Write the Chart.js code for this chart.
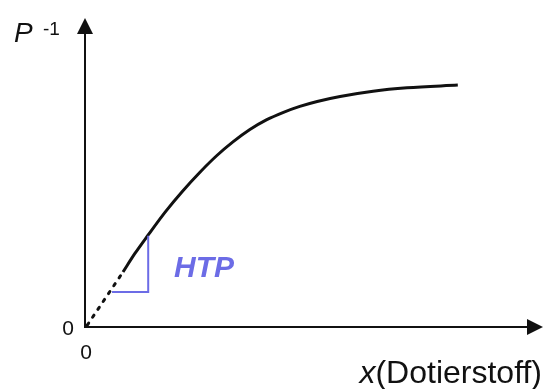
<!DOCTYPE html>
<html>
<head>
<meta charset="utf-8">
<script src="https://cdn.jsdelivr.net/npm/chart.js@4/dist/chart.umd.min.js"></script>
<style>
html,body{margin:0;padding:0;background:#fff;}
#wrap{width:543px;height:389px;position:relative;}
</style>
</head>
<body>
<div id="wrap"><canvas id="c" width="543" height="389"></canvas></div>
<script>
// Curve (solid part): dopant concentration x vs. P^-1 (arbitrary units 0..10)
const curveX = [0.83, 1.09, 1.38, 1.75, 2.12, 2.51, 2.88, 3.23, 3.60, 3.97, 4.32, 4.69, 5.07, 5.57, 6.29, 7.03, 8.14];
const curveY = [1.78, 2.38, 2.98, 3.72, 4.38, 5.01, 5.55, 5.99, 6.39, 6.71, 6.94, 7.14, 7.30, 7.46, 7.63, 7.74, 7.83];
// Dotted extrapolation to the origin
const dotX = [0.05, 0.83];
const dotY = [0.06, 1.78];
// Slope triangle (HTP)
const triX = [0.59, 1.38, 1.38];
const triY = [1.13, 1.13, 2.95];
// Axis range and labels
const xMax = 10, yMax = 10;
const xTitle = ['x', '(Dotierstoff)'];
const yTitle = ['P', '-1'];
const originLabel = '0';
const slopeLabel = 'HTP';
const slopeLabelPos = [2.6, 1.62];

const toPts = (xs, ys) => xs.map((x, i) => ({x, y: ys[i]}));
const FONT = '"Liberation Sans", Arial, sans-serif';
const BLUE = '#6c6ce6';

const decor = {
  id: 'decor',
  afterDatasetsDraw(chart) {
    const {ctx, chartArea: a, scales} = chart;
    const ox = scales.x.getPixelForValue(0), oy = scales.y.getPixelForValue(0);
    ctx.save();
    ctx.strokeStyle = '#111'; ctx.fillStyle = '#111'; ctx.lineWidth = 2;
    // y axis
    ctx.beginPath(); ctx.moveTo(ox, oy + 1); ctx.lineTo(ox, a.top + 14); ctx.stroke();
    ctx.beginPath(); ctx.moveTo(ox, a.top); ctx.lineTo(ox - 8, a.top + 16); ctx.lineTo(ox + 8, a.top + 16); ctx.closePath(); ctx.fill();
    // x axis
    ctx.beginPath(); ctx.moveTo(ox - 1, oy); ctx.lineTo(a.right - 14, oy); ctx.stroke();
    ctx.beginPath(); ctx.moveTo(a.right, oy); ctx.lineTo(a.right - 16, oy - 8); ctx.lineTo(a.right - 16, oy + 8); ctx.closePath(); ctx.fill();
    // origin labels
    ctx.fillStyle = '#111';
    ctx.font = '21px ' + FONT;
    ctx.textAlign = 'center'; ctx.textBaseline = 'alphabetic';
    ctx.fillText(originLabel, ox - 17, oy + 8);
    ctx.fillText(originLabel, ox + 1, oy + 32);
    // y title
    ctx.textAlign = 'left';
    ctx.font = 'italic 28px ' + FONT;
    ctx.fillText(yTitle[0], 14, a.top + 24);
    ctx.font = '19px ' + FONT;
    ctx.fillText(yTitle[1], 43, a.top + 17);
    // x title
    ctx.textAlign = 'right';
    ctx.font = '32px ' + FONT;
    const w2 = ctx.measureText(xTitle[1]).width;
    ctx.fillText(xTitle[1], a.right - 1, oy + 56);
    ctx.font = 'italic 32px ' + FONT;
    ctx.fillText(xTitle[0], a.right - 1 - w2, oy + 56);
    // HTP label
    ctx.fillStyle = BLUE;
    ctx.textAlign = 'center';
    ctx.font = 'italic bold 30px ' + FONT;
    ctx.fillText(slopeLabel, scales.x.getPixelForValue(slopeLabelPos[0]), scales.y.getPixelForValue(slopeLabelPos[1]));
    ctx.restore();
  }
};

new Chart(document.getElementById('c'), {
  type: 'scatter',
  data: {
    datasets: [
      {data: toPts(triX, triY), showLine: true, borderColor: BLUE, borderWidth: 2, pointRadius: 0, tension: 0, clip: false},
      {data: toPts(dotX, dotY), showLine: true, borderColor: '#111', borderWidth: 3, borderDash: [2.5, 7], borderCapStyle: 'round', pointRadius: 0, clip: false},
      {data: toPts(curveX, curveY), showLine: true, borderColor: '#111', borderWidth: 3, pointRadius: 0, cubicInterpolationMode: 'monotone', clip: false}
    ]
  },
  options: {
    responsive: false,
    animation: false,
    layout: {padding: {left: 85, right: 0, top: 18, bottom: 62}},
    plugins: {legend: {display: false}, tooltip: {enabled: false}},
    scales: {
      x: {type: 'linear', min: 0, max: xMax, display: false},
      y: {type: 'linear', min: 0, max: yMax, display: false}
    }
  },
  plugins: [decor]
});
</script>
</body>
</html>
